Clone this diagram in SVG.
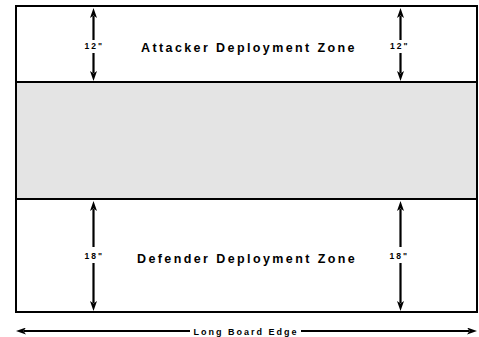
<svg xmlns="http://www.w3.org/2000/svg" width="479" height="337" viewBox="0 0 479 337">
<style>
.b{stroke:#000;stroke-width:2}
.dim{stroke:#000;stroke-width:2.2;fill:none}
.t{font-family:"Liberation Sans",Arial,sans-serif;font-weight:bold;fill:#000}
.zone{font-size:12.5px;letter-spacing:2.4px}
.sm{font-size:8.5px;letter-spacing:2px}
.edge{font-size:9px;letter-spacing:2px}
</style>
<defs>
<marker id="ah" viewBox="0 0 10 7" refX="2" refY="3.5" markerWidth="10" markerHeight="7" markerUnits="userSpaceOnUse" orient="auto-start-reverse">
<path d="M0,0 L10,3.5 L0,7 L2.5,3.5 Z" fill="#000"/>
</marker>
</defs>
<g id="board">
<rect x="16" y="6" width="461" height="306" class="b" style="fill:#fff"/>
</g>
<g id="no-mans-land">
<rect x="16" y="82" width="461" height="117" class="b" style="fill:#e4e4e4"/>
</g>
<g id="attacker-zone">
<text class="t zone" x="141" y="52.3">Attacker Deployment Zone</text>
</g>
<g id="defender-zone">
<text class="t zone" x="137" y="262.7">Defender Deployment Zone</text>
</g>
<g id="connectors">
<line class="dim" x1="93.5" y1="16" x2="93.5" y2="40" marker-start="url(#ah)"/>
<line class="dim" x1="93.5" y1="53" x2="93.5" y2="73" marker-end="url(#ah)"/>
<line class="dim" x1="400.5" y1="16" x2="400.5" y2="40" marker-start="url(#ah)"/>
<line class="dim" x1="400.5" y1="53" x2="400.5" y2="73" marker-end="url(#ah)"/>
<line class="dim" x1="93.5" y1="209" x2="93.5" y2="247" marker-start="url(#ah)"/>
<line class="dim" x1="93.5" y1="263" x2="93.5" y2="303" marker-end="url(#ah)"/>
<line class="dim" x1="400.5" y1="209" x2="400.5" y2="247" marker-start="url(#ah)"/>
<line class="dim" x1="400.5" y1="263" x2="400.5" y2="303" marker-end="url(#ah)"/>
<line class="dim" x1="24" y1="331" x2="190" y2="331" marker-start="url(#ah)"/>
<line class="dim" x1="301" y1="331" x2="469" y2="331" marker-end="url(#ah)"/>
</g>
<g id="labels">
<text class="t sm" x="84.5" y="48.7">12"</text>
<text class="t sm" x="390" y="48.7">12"</text>
<text class="t sm" x="84.5" y="259.3">18"</text>
<text class="t sm" x="389.5" y="259.3">18"</text>
<text class="t edge" x="193.5" y="335.3">Long Board Edge</text>
</g>
</svg>
